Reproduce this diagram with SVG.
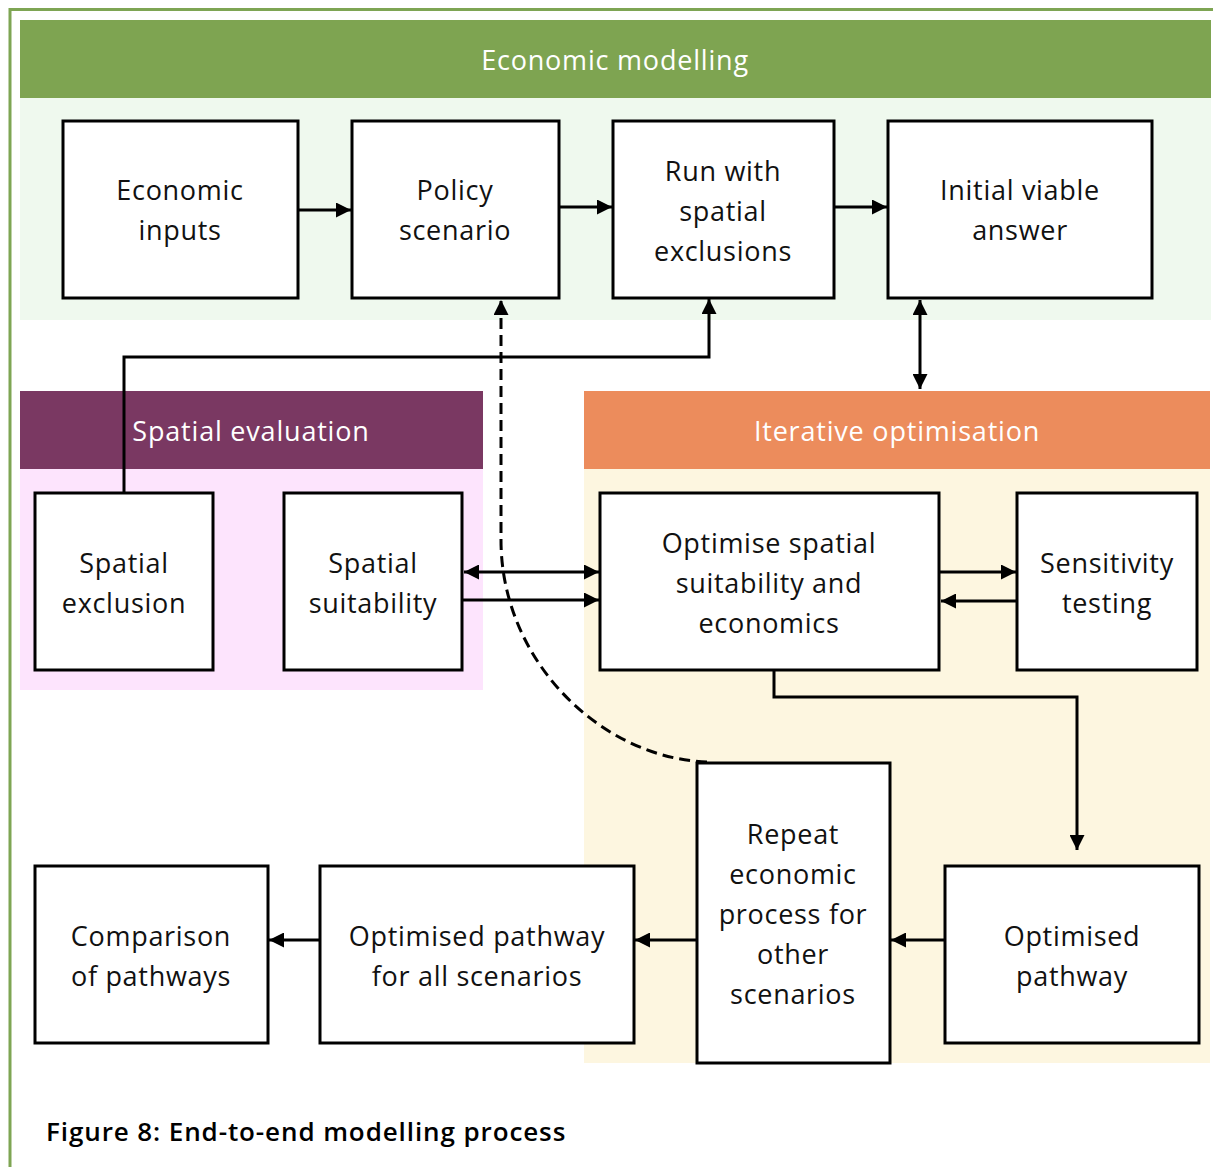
<svg xmlns="http://www.w3.org/2000/svg" width="1213" height="1167" viewBox="0 0 1213 1167">
  <defs>
    <style>
      .box { fill: #ffffff; stroke: #000000; stroke-width: 3; }
      .lbl { font-family: "Open Sans", "Liberation Sans", sans-serif; font-size: 27px; letter-spacing: 0.7px; fill: #111111; text-anchor: middle; }
      .hdr { font-family: "Open Sans", "Liberation Sans", sans-serif; font-size: 27px; letter-spacing: 0.8px; fill: #ffffff; text-anchor: middle; }
      .wire { fill: none; stroke: #000000; stroke-width: 3; }
      .dash { fill: none; stroke: #000000; stroke-width: 3; stroke-dasharray: 11 6; }
    </style>
    <marker id="head" viewBox="0 0 10 10" refX="10" refY="5" markerWidth="5" markerHeight="5" orient="auto-start-reverse" markerUnits="strokeWidth">
      <path d="M0,0 L10,5 L0,10 z" fill="#000000"/>
    </marker>
  </defs>

  <rect width="1213" height="1167" fill="#ffffff"/>
  <!-- outer frame -->
  <rect x="10" y="9.5" width="1220" height="1180" fill="none" stroke="#7ea553" stroke-width="3"/>

  <!-- section bands -->
  <g id="economic-modelling">
    <rect x="20" y="98" width="1191" height="222" fill="#eff9ee"/>
    <rect x="20" y="20" width="1191" height="78" fill="#7ea451"/>
    <text class="hdr" x="615" y="70">Economic modelling</text>
  </g>
  <g id="spatial-evaluation">
    <rect x="20" y="469" width="463" height="221" fill="#fde4fd"/>
    <rect x="20" y="391" width="463" height="78" fill="#7a3862"/>
    <text class="hdr" x="251" y="441">Spatial evaluation</text>
  </g>
  <g id="iterative-optimisation">
    <rect x="584" y="469" width="626" height="594" fill="#fdf6e0"/>
    <rect x="584" y="391" width="626" height="78" fill="#ec8c5c"/>
    <text class="hdr" x="897" y="441">Iterative optimisation</text>
  </g>

  <!-- connectors -->
  <g id="connectors">
    <line class="wire" x1="299" y1="210" x2="351" y2="210" marker-end="url(#head)"/>
    <line class="wire" x1="560" y1="207" x2="612" y2="207" marker-end="url(#head)"/>
    <line class="wire" x1="835" y1="207" x2="887" y2="207" marker-end="url(#head)"/>
    <polyline class="wire" points="124,492 124,357 709,357 709,299" marker-end="url(#head)"/>
    <line class="wire" x1="920" y1="300" x2="920" y2="389" marker-start="url(#head)" marker-end="url(#head)"/>
    <path class="dash" d="M707,762 C600,758 501,660 501,540 L501,300" marker-end="url(#head)"/>
    <line class="wire" x1="464" y1="572" x2="599" y2="572" marker-start="url(#head)" marker-end="url(#head)"/>
    <line class="wire" x1="463" y1="600" x2="599" y2="600" marker-end="url(#head)"/>
    <line class="wire" x1="940" y1="572" x2="1016" y2="572" marker-end="url(#head)"/>
    <line class="wire" x1="1016" y1="601" x2="941" y2="601" marker-end="url(#head)"/>
    <polyline class="wire" points="774,671 774,697 1077,697 1077,850" marker-end="url(#head)"/>
    <line class="wire" x1="944" y1="940" x2="891" y2="940" marker-end="url(#head)"/>
    <line class="wire" x1="696" y1="940" x2="635" y2="940" marker-end="url(#head)"/>
    <line class="wire" x1="319" y1="940" x2="269" y2="940" marker-end="url(#head)"/>
  </g>

  <!-- nodes -->
  <g id="economic-inputs">
    <rect class="box" x="63" y="121" width="235" height="177"/>
    <text class="lbl" x="180" y="200">Economic</text>
    <text class="lbl" x="180" y="240">inputs</text>
  </g>
  <g id="policy-scenario">
    <rect class="box" x="352" y="121" width="207" height="177"/>
    <text class="lbl" x="455" y="200">Policy</text>
    <text class="lbl" x="455" y="240">scenario</text>
  </g>
  <g id="run-with-spatial-exclusions">
    <rect class="box" x="613" y="121" width="221" height="177"/>
    <text class="lbl" x="723" y="181">Run with</text>
    <text class="lbl" x="723" y="221">spatial</text>
    <text class="lbl" x="723" y="261">exclusions</text>
  </g>
  <g id="initial-viable-answer">
    <rect class="box" x="888" y="121" width="264" height="177"/>
    <text class="lbl" x="1020" y="200">Initial viable</text>
    <text class="lbl" x="1020" y="240">answer</text>
  </g>
  <g id="spatial-exclusion">
    <rect class="box" x="35" y="493" width="178" height="177"/>
    <text class="lbl" x="124" y="573">Spatial</text>
    <text class="lbl" x="124" y="613">exclusion</text>
  </g>
  <g id="spatial-suitability">
    <rect class="box" x="284" y="493" width="178" height="177"/>
    <text class="lbl" x="373" y="573">Spatial</text>
    <text class="lbl" x="373" y="613">suitability</text>
  </g>
  <g id="optimise-spatial-suitability">
    <rect class="box" x="600" y="493" width="339" height="177"/>
    <text class="lbl" x="769" y="553">Optimise spatial</text>
    <text class="lbl" x="769" y="593">suitability and</text>
    <text class="lbl" x="769" y="633">economics</text>
  </g>
  <g id="sensitivity-testing">
    <rect class="box" x="1017" y="493" width="180" height="177"/>
    <text class="lbl" x="1107" y="573">Sensitivity</text>
    <text class="lbl" x="1107" y="613">testing</text>
  </g>
  <g id="repeat-economic-process">
    <rect class="box" x="697" y="763" width="193" height="300"/>
    <text class="lbl" x="793" y="844">Repeat</text>
    <text class="lbl" x="793" y="884">economic</text>
    <text class="lbl" x="793" y="924">process for</text>
    <text class="lbl" x="793" y="964">other</text>
    <text class="lbl" x="793" y="1004">scenarios</text>
  </g>
  <g id="optimised-pathway">
    <rect class="box" x="945" y="866" width="254" height="177"/>
    <text class="lbl" x="1072" y="946">Optimised</text>
    <text class="lbl" x="1072" y="986">pathway</text>
  </g>
  <g id="optimised-pathway-all">
    <rect class="box" x="320" y="866" width="314" height="177"/>
    <text class="lbl" x="477" y="946">Optimised pathway</text>
    <text class="lbl" x="477" y="986">for all scenarios</text>
  </g>
  <g id="comparison-of-pathways">
    <rect class="box" x="35" y="866" width="233" height="177"/>
    <text class="lbl" x="151" y="946">Comparison</text>
    <text class="lbl" x="151" y="986">of pathways</text>
  </g>

  <text x="46" y="1141" font-family="'Open Sans', 'Liberation Sans', sans-serif" font-size="26" font-weight="600" letter-spacing="0.9" fill="#000000">Figure 8: End-to-end modelling process</text>
</svg>
